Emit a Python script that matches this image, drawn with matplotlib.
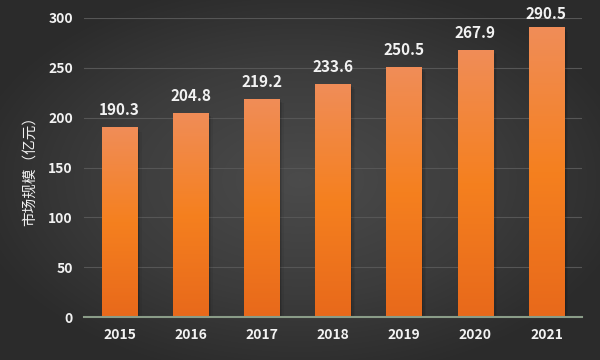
"""Market size bar chart, 2015-2021, dark gradient background."""

import numpy as np
import matplotlib
matplotlib.use("Agg")
import matplotlib.pyplot as plt
from matplotlib.colors import LinearSegmentedColormap
from matplotlib.patches import Rectangle

years = ["2015", "2016", "2017", "2018", "2019", "2020", "2021"]
market_size = [190.3, 204.8, 219.2, 233.6, 250.5, 267.9, 290.5]
y_ticks = [0, 50, 100, 150, 200, 250, 300]
y_label = "市场规模（亿元）"

plt.rcParams["font.family"] = ["Noto Sans CJK SC", "DejaVu Sans"]

fig = plt.figure(figsize=(6, 3.6), dpi=100)

# radial background, lighter in the middle
bg_ax = fig.add_axes([0, 0, 1, 1], zorder=0)
gx, gy = np.meshgrid(np.linspace(-1, 1, 600), np.linspace(-1, 1, 360))
r = np.clip(np.sqrt((gx * 0.9) ** 2 + (gy * 0.9) ** 2), 0, 1)
bg_cmap = LinearSegmentedColormap.from_list("bg", ["#4b4b4b", "#3c3c3c", "#262626"])
bg_ax.imshow(r, cmap=bg_cmap, vmin=0, vmax=1.15, aspect="auto", extent=[0, 1, 0, 1])
bg_ax.set_axis_off()

ax = fig.add_axes([0.14, 0.1194, 0.83, 0.8306], zorder=1)
ax.set_facecolor("none")

x = np.arange(len(years))
width = 0.5
bar_cmap = LinearSegmentedColormap.from_list("bar", ["#e8691b", "#f5801f", "#f08d58"])
grad = np.linspace(0, 1, 256).reshape(-1, 1)

for xi, val in zip(x, market_size):
    # soft shadow
    for k, a in enumerate([0.12, 0.08, 0.05]):
        off = 0.02 * (k + 1)
        ax.add_patch(Rectangle((xi - width / 2 + off, 0), width, val - 1.5 * (k + 1),
                               color="black", alpha=a, lw=0, zorder=2))
    bar = ax.bar(xi, val, width=width, color="none", zorder=3)[0]
    im = ax.imshow(grad, cmap=bar_cmap, aspect="auto", origin="lower",
                   extent=[xi - width / 2, xi + width / 2, 0, val], zorder=3)
    im.set_clip_path(bar)
    # labels near the top get pushed down a bit so they stay in frame
    ax.text(xi, min(val + 9, 296), f"{val:.1f}", ha="center", va="bottom",
            color="#f2f2f2", fontsize=11, fontweight="bold")

ax.set_xlim(-0.5, len(years) - 0.5)
ax.set_ylim(0, 300)
ax.set_xticks(x)
ax.set_xticklabels(years)
ax.set_yticks(y_ticks)
ax.tick_params(length=0, colors="#f2f2f2", labelsize=10, pad=8)
for lab in ax.get_xticklabels() + ax.get_yticklabels():
    lab.set_fontweight("bold")
ax.set_ylabel(y_label, color="#f2f2f2", fontsize=10.5, labelpad=8)

ax.grid(axis="y", color="#565656", linewidth=0.8)
ax.set_axisbelow(True)
for side in ["top", "right", "left"]:
    ax.spines[side].set_visible(False)
ax.spines["bottom"].set_color("#8a9c88")
ax.spines["bottom"].set_linewidth(1.5)
ax.spines["bottom"].set_zorder(4)

fig.savefig("out.png", dpi=100)
